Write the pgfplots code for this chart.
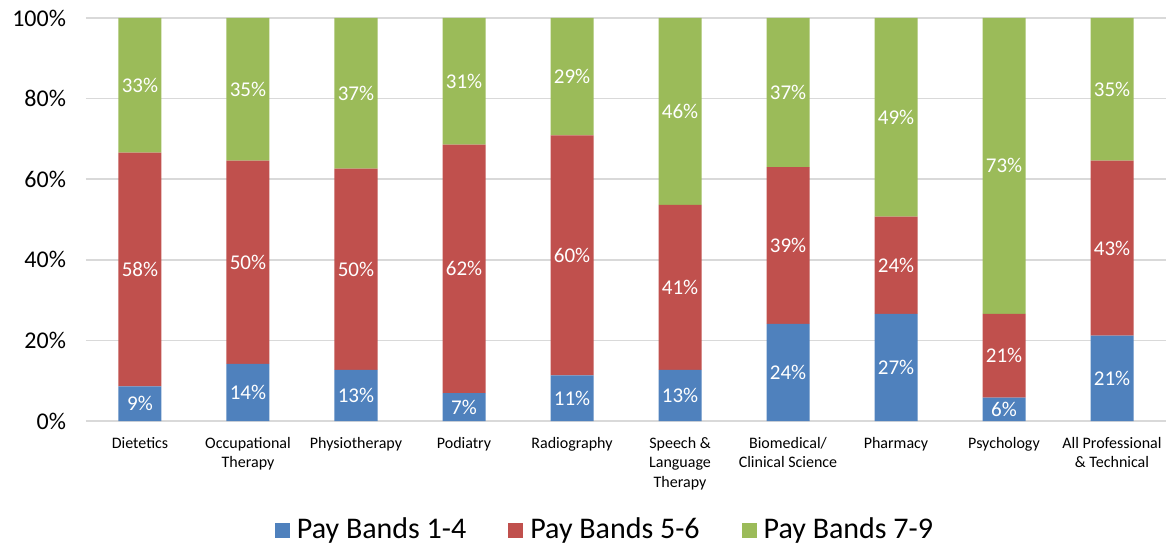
\documentclass[border=0pt]{standalone}
\usepackage{fontspec}
\setmainfont{Carlito}
\usepackage{pgfplots}
\usepackage{pgfplotstable}
\pgfplotsset{compat=1.18}
\definecolor{cb}{HTML}{4F81BD}
\definecolor{cr}{HTML}{C0504D}
\definecolor{cg}{HTML}{9BBB59}
\definecolor{gridc}{HTML}{D9D9D9}

\pgfplotstableread{
x b r g
0 8.6 58.0 33.4
1 14.2 50.4 35.4
2 12.7 49.9 37.4
3 6.9 61.7 31.4
4 11.3 59.6 29.1
5 12.7 40.9 46.4
6 24.1 38.9 37.0
7 26.6 24.1 49.3
8 5.8 20.8 73.4
9 21.2 43.4 35.4
}\data

\pgfplotsset{common/.style={width=540pt,height=201.5pt,scale only axis,
  xmin=-0.5,xmax=9.5,ymin=0,ymax=100,
  /pgf/number format/assume math mode=true},
  sqlegend/.style={legend image code/.code={\fill[##1] (0pt,-3.75pt) rectangle (7.5pt,3.75pt);}}}

\begin{document}
\begin{tikzpicture}
\begin{axis}[common, ybar stacked, bar width=21.5pt,
  axis line style={draw=none}, ymajorgrids, grid style={gridc, line width=0.8pt},
  major tick length=0,
  ytick={0,20,...,100}, yticklabel={\pgfmathprintnumber{\tick}\%},
  yticklabel style={font=\fontsize{12}{14}\selectfont, xshift=-6.5pt},
  xtick={0,...,9},
  xticklabels={Dietetics, {Occupational\\Therapy}, Physiotherapy, Podiatry, Radiography, {Speech \&\\Language\\Therapy}, {Biomedical/\\Clinical Science}, Pharmacy, Psychology, {All Professional\\\& Technical}},
  xticklabel style={font=\fontsize{8}{9.75}\selectfont, align=center, anchor=north, yshift=-4.5pt},
  legend style={draw=none, at={(0.4815,-0.2705)}, anchor=center, legend columns=3,
    font=\fontsize{15}{17}\selectfont,
    /tikz/every odd column/.append style={column sep=1.5pt},
    /tikz/every even column/.append style={column sep=19pt}},
]
\addplot[fill=cb, draw=none, sqlegend] table[x=x,y=b] {\data};
\addplot[fill=cr, draw=none, sqlegend] table[x=x,y=r] {\data};
\addplot[fill=cg, draw=none, sqlegend] table[x=x,y=g] {\data};
\legend{Pay Bands 1-4, Pay Bands 5-6, Pay Bands 7-9}
\end{axis}
\begin{axis}[common, hide axis,
  nodes near coords={\pgfmathprintnumber[fixed,precision=0]{\pgfplotspointmeta}\%},
  every node near coord/.style={font=\fontsize{10.5}{12}\selectfont, text=white, anchor=center, inner sep=0pt}]
\addplot[draw=none, mark=none, point meta=\thisrow{b}] table[x=x, y expr=\thisrow{b}/2] {\data};
\addplot[draw=none, mark=none, point meta=\thisrow{r}] table[x=x, y expr=\thisrow{b}+\thisrow{r}/2] {\data};
\addplot[draw=none, mark=none, point meta=\thisrow{g}] table[x=x, y expr=\thisrow{b}+\thisrow{r}+\thisrow{g}/2] {\data};
\end{axis}
\pgfresetboundingbox
\path[use as bounding box] ([xshift=-43pt,yshift=-64.5pt]current axis.south west) rectangle ([xshift=2pt,yshift=9pt]current axis.north east);
\end{tikzpicture}
\end{document}
